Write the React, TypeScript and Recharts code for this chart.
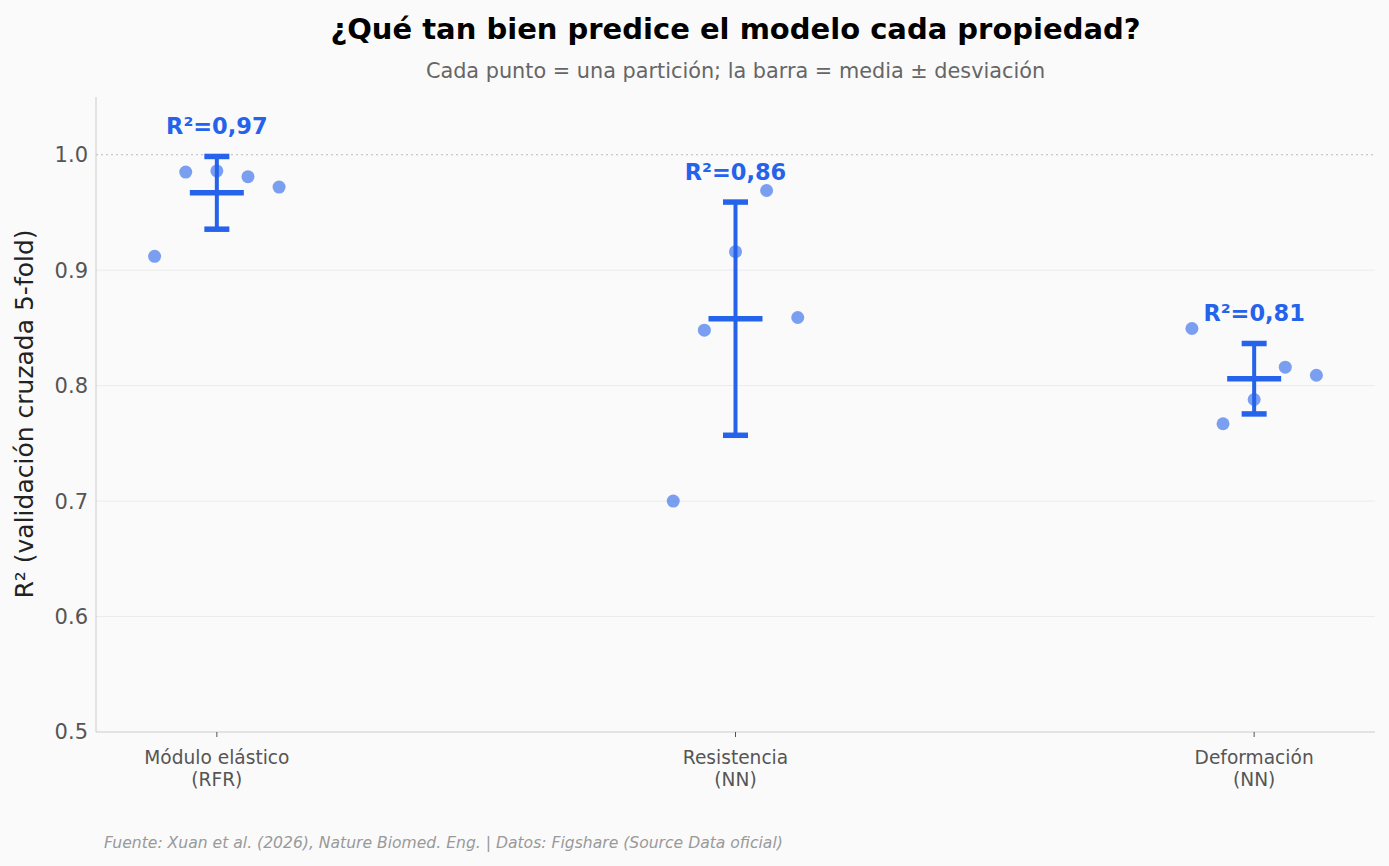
import React from 'react';
import { ScatterChart, Scatter, XAxis, YAxis, CartesianGrid, ReferenceLine, ErrorBar } from 'recharts';

const CATEGORIES = ['Módulo elástico\n(RFR)', 'Resistencia\n(NN)', 'Deformación\n(NN)'];
const JITTER = [-0.12, -0.06, 0, 0.06, 0.12];
const MODULO_R2 = [0.912, 0.985, 0.986, 0.981, 0.972];
const RESISTENCIA_R2 = [0.7, 0.848, 0.916, 0.969, 0.859];
const DEFORMACION_R2 = [0.8495, 0.767, 0.788, 0.816, 0.809];
const MEANS = [0.967, 0.858, 0.806];
const SDS = [0.0315, 0.101, 0.0305];
const LABELS = ['R²=0,97', 'R²=0,86', 'R²=0,81'];
const Y_TICKS = [0.5, 0.6, 0.7, 0.8, 0.9, 1.0];

const BLUE = '#2563eb';
const FONT = '"DejaVu Sans", sans-serif';

const folds = [MODULO_R2, RESISTENCIA_R2, DEFORMACION_R2];
const pointData = folds.flatMap((vals, ci) => vals.map((v, i) => ({ x: ci + JITTER[i], y: v })));
const meanData = MEANS.map((m, i) => ({ x: i, y: m, err: SDS[i] }));
const capData = MEANS.flatMap((m, i) => [{ x: i, y: m + SDS[i] }, { x: i, y: m - SDS[i] }]);
const labelData = MEANS.map((m, i) => ({ x: i, y: m + SDS[i], label: LABELS[i] }));

const Dot = (p: any) => <circle cx={p.cx} cy={p.cy} r={6.5} fill={BLUE} fillOpacity={0.6} />;
const MeanLine = (p: any) => (
  <line x1={p.cx - 27} x2={p.cx + 27} y1={p.cy} y2={p.cy} stroke={BLUE} strokeWidth={5.5} />
);
const Cap = (p: any) => (
  <line x1={p.cx - 12.5} x2={p.cx + 12.5} y1={p.cy} y2={p.cy} stroke={BLUE} strokeWidth={5.5} />
);
const LabelShape = (p: any) => (
  <text x={p.cx} y={p.cy - 22} textAnchor="middle" fill={BLUE} fontSize={22.5} fontWeight="bold" fontFamily={FONT}>
    {p.payload.label}
  </text>
);

const XTick = (p: any) => {
  const idx = Math.round(p.payload.value);
  const lines = (CATEGORIES[idx] || '').split('\n');
  return (
    <text x={p.x} y={p.y} textAnchor="middle" fill="#555" fontSize={18.6} fontFamily={FONT}>
      {lines.map((l, i) => (
        <tspan key={i} x={p.x} y={p.y + 25 + i * 22}>{l}</tspan>
      ))}
    </text>
  );
};

export default function App() {
  return (
    <div style={{ position: 'absolute', left: 0, top: 0, width: 1389, height: 866, background: '#fafafa', fontFamily: FONT, overflow: 'hidden' }}>
      <div style={{ position: 'absolute', left: 96, width: 1279, top: 11, textAlign: 'center', fontSize: 29, fontWeight: 'bold', color: '#000', lineHeight: '36px' }}>
        ¿Qué tan bien predice el modelo cada propiedad?
      </div>
      <div style={{ position: 'absolute', left: 96, width: 1279, top: 57, textAlign: 'center', fontSize: 20.8, color: '#666', lineHeight: '28px' }}>
        Cada punto = una partición; la barra = media ± desviación
      </div>
      <div style={{ position: 'absolute', left: 24, top: 414, width: 0, height: 0 }}>
        <div style={{ position: 'absolute', transform: 'translate(-50%, -50%) rotate(-90deg)', whiteSpace: 'nowrap', fontSize: 25, color: '#222' }}>
          R² (validación cruzada 5-fold)
        </div>
      </div>
      <div style={{ position: 'absolute', left: 104, top: 834, fontSize: 15.6, fontStyle: 'italic', color: '#999', whiteSpace: 'nowrap' }}>
        Fuente: Xuan et al. (2026), Nature Biomed. Eng. | Datos: Figshare (Source Data oficial)
      </div>
      <div style={{ position: 'absolute', left: 0, top: 0 }}>
        <ScatterChart width={1389} height={866} margin={{ top: 97, right: 14, bottom: 74, left: 0 }}>
          <CartesianGrid horizontal vertical={false} stroke="#ebebeb" horizontalValues={[0.6, 0.7, 0.8, 0.9]} />
          <ReferenceLine y={1.0} stroke="#bbbbbb" strokeDasharray="2 3" strokeWidth={1.2} />
          <XAxis
            type="number"
            dataKey="x"
            domain={[-0.233, 2.233]}
            ticks={[0, 1, 2]}
            allowDataOverflow
            height={60}
            axisLine={{ stroke: '#cccccc' }}
            tickLine={{ stroke: '#555' }}
            tickSize={5}
            tick={<XTick />}
          />
          <YAxis
            type="number"
            dataKey="y"
            domain={[0.5, 1.05]}
            ticks={Y_TICKS}
            allowDataOverflow
            width={96}
            axisLine={{ stroke: '#cccccc' }}
            tickLine={false}
            tick={{ fill: '#555', fontSize: 21, fontFamily: FONT }}
            tickFormatter={(v: number) => v.toFixed(1)}
          />
          <Scatter data={pointData} shape={<Dot />} isAnimationActive={false} />
          <Scatter data={meanData} shape={<MeanLine />} isAnimationActive={false}>
            <ErrorBar dataKey="err" direction="y" width={0} strokeWidth={4} stroke={BLUE} />
          </Scatter>
          <Scatter data={capData} shape={<Cap />} isAnimationActive={false} />
          <Scatter data={labelData} shape={<LabelShape />} isAnimationActive={false} />
        </ScatterChart>
      </div>
    </div>
  );
}
